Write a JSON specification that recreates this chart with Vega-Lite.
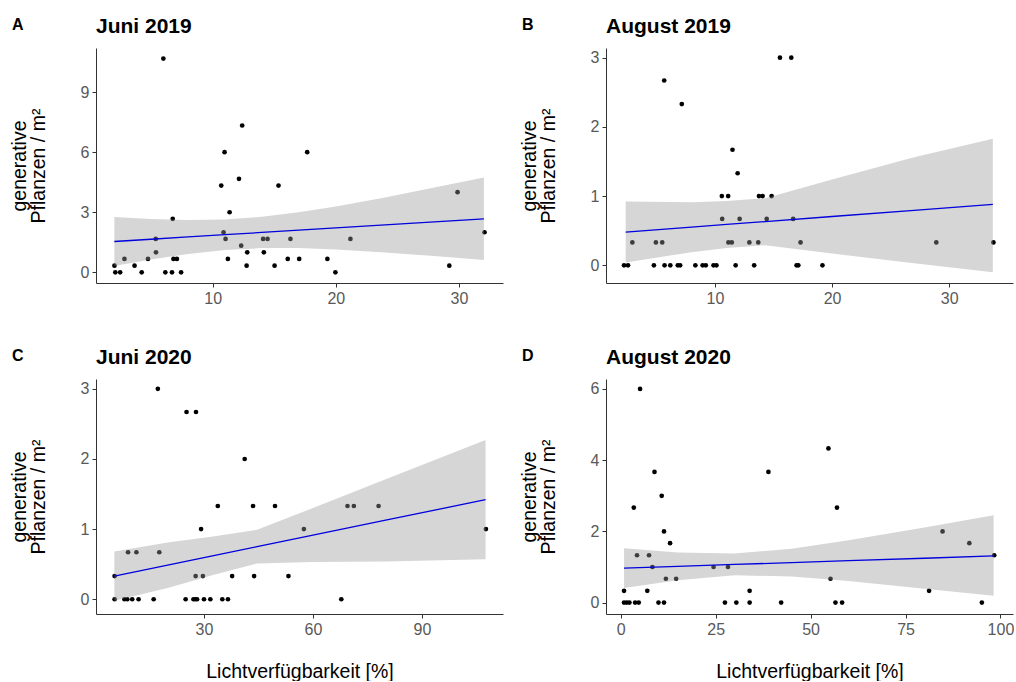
{
  "$schema": "https://vega.github.io/schema/vega-lite/v6.json",
  "padding": {"left": 9, "top": 16, "right": 0, "bottom": 0},
  "autosize": {"type": "pad"},
  "background": "white",
  "config": {
    "font": "Liberation Sans",
    "view": {"stroke": null},
    "axis": {"grid": false, "domainColor": "#333333", "domainWidth": 1, "tickColor": "#333333", "tickSize": 4, "tickWidth": 1,
      "labelColor": "#595959", "labelFontSize": 16, "labelFont": "Liberation Sans", "labelPadding": 3, "labelFlush": false, "labelOverlap": false, "format": "d",
      "titleFont": "Liberation Sans", "titleFontSize": 19.5, "titleFontWeight": "normal", "titleColor": "#000000"},
    "axisY": {"titlePadding": 32, "titleLineHeight": 18.5},
    "axisX": {"titlePadding": 25},
    "title": {"font": "Liberation Sans", "fontWeight": "bold", "color": "#000000"}
  },
  "datasets": {
    "pts": [
      {"p":"A","x":2.03,"y":0.33},{"p":"A","x":2.1,"y":0},{"p":"A","x":2.49,"y":0},{"p":"A","x":2.84,"y":0.67},{"p":"A","x":3.66,"y":0.33},{"p":"A","x":4.24,"y":0},{"p":"A","x":4.75,"y":0.67},{"p":"A","x":5.38,"y":1.67},{"p":"A","x":5.4,"y":1.0},{"p":"A","x":6.0,"y":10.67},{"p":"A","x":6.16,"y":0},{"p":"A","x":6.7,"y":0},{"p":"A","x":6.76,"y":2.67},{"p":"A","x":6.82,"y":0.67},{"p":"A","x":7.1,"y":0.67},{"p":"A","x":7.44,"y":0},{"p":"A","x":10.7,"y":4.33},{"p":"A","x":10.89,"y":2},{"p":"A","x":10.97,"y":6},{"p":"A","x":11.05,"y":1.67},{"p":"A","x":11.24,"y":0.67},{"p":"A","x":11.38,"y":3},{"p":"A","x":12.14,"y":4.67},{"p":"A","x":12.32,"y":1.33},{"p":"A","x":12.4,"y":7.33},{"p":"A","x":12.76,"y":0.33},{"p":"A","x":12.81,"y":1},{"p":"A","x":14.1,"y":1.67},{"p":"A","x":14.16,"y":1},{"p":"A","x":14.46,"y":1.67},{"p":"A","x":15.03,"y":0.33},{"p":"A","x":15.35,"y":4.33},{"p":"A","x":16.1,"y":0.67},{"p":"A","x":16.32,"y":1.67},{"p":"A","x":17.03,"y":0.67},{"p":"A","x":17.68,"y":6},{"p":"A","x":19.32,"y":0.67},{"p":"A","x":19.97,"y":0},{"p":"A","x":21.19,"y":1.67},{"p":"A","x":29.22,"y":0.33},{"p":"A","x":29.89,"y":4},{"p":"A","x":32.08,"y":2},
      {"p":"B","x":2.24,"y":0},{"p":"B","x":2.58,"y":0},{"p":"B","x":2.95,"y":0.33},{"p":"B","x":4.79,"y":0},{"p":"B","x":4.96,"y":0.33},{"p":"B","x":5.5,"y":0.33},{"p":"B","x":5.67,"y":2.67},{"p":"B","x":5.7,"y":0},{"p":"B","x":6.19,"y":0},{"p":"B","x":6.83,"y":0},{"p":"B","x":7.03,"y":0},{"p":"B","x":7.17,"y":2.33},{"p":"B","x":8.33,"y":0},{"p":"B","x":8.95,"y":0},{"p":"B","x":9.22,"y":0},{"p":"B","x":9.88,"y":0},{"p":"B","x":10.13,"y":0},{"p":"B","x":10.59,"y":1},{"p":"B","x":10.62,"y":0.67},{"p":"B","x":11.13,"y":1},{"p":"B","x":11.15,"y":0.33},{"p":"B","x":11.44,"y":0.33},{"p":"B","x":11.5,"y":1.67},{"p":"B","x":11.77,"y":0},{"p":"B","x":11.94,"y":1.33},{"p":"B","x":12.11,"y":0.67},{"p":"B","x":12.94,"y":0.33},{"p":"B","x":13.35,"y":0},{"p":"B","x":13.7,"y":0.33},{"p":"B","x":13.76,"y":1},{"p":"B","x":14.07,"y":1},{"p":"B","x":14.42,"y":0.67},{"p":"B","x":14.84,"y":1},{"p":"B","x":15.55,"y":3},{"p":"B","x":16.52,"y":3},{"p":"B","x":16.68,"y":0.67},{"p":"B","x":16.97,"y":0},{"p":"B","x":17.12,"y":0},{"p":"B","x":17.31,"y":0.33},{"p":"B","x":19.18,"y":0},{"p":"B","x":28.9,"y":0.33},{"p":"B","x":33.78,"y":0.33},
      {"p":"C","x":5.4,"y":0},{"p":"C","x":5.4,"y":0.33},{"p":"C","x":8.1,"y":0},{"p":"C","x":8.9,"y":0},{"p":"C","x":9.1,"y":0.67},{"p":"C","x":10.25,"y":0},{"p":"C","x":11.4,"y":0.67},{"p":"C","x":12.0,"y":0},{"p":"C","x":16.15,"y":0},{"p":"C","x":17.3,"y":3},{"p":"C","x":17.7,"y":0.67},{"p":"C","x":24.95,"y":0},{"p":"C","x":25.2,"y":2.67},{"p":"C","x":27.1,"y":0},{"p":"C","x":27.6,"y":0},{"p":"C","x":27.8,"y":2.67},{"p":"C","x":27.7,"y":0.33},{"p":"C","x":28.1,"y":0},{"p":"C","x":29.2,"y":1},{"p":"C","x":29.7,"y":0.33},{"p":"C","x":30.0,"y":0},{"p":"C","x":31.75,"y":0},{"p":"C","x":33.8,"y":1.33},{"p":"C","x":35.05,"y":0},{"p":"C","x":36.6,"y":0},{"p":"C","x":37.75,"y":0.33},{"p":"C","x":41.2,"y":2},{"p":"C","x":43.5,"y":1.33},{"p":"C","x":43.8,"y":0.33},{"p":"C","x":49.55,"y":1.33},{"p":"C","x":53.25,"y":0.33},{"p":"C","x":57.5,"y":1},{"p":"C","x":67.8,"y":0},{"p":"C","x":69.5,"y":1.33},{"p":"C","x":71.25,"y":1.33},{"p":"C","x":78.05,"y":1.33},{"p":"C","x":107.6,"y":1},
      {"p":"D","x":0.88,"y":0.33},{"p":"D","x":0.88,"y":0},{"p":"D","x":1.6,"y":0},{"p":"D","x":2.3,"y":0},{"p":"D","x":3.45,"y":2.67},{"p":"D","x":3.8,"y":0},{"p":"D","x":4.3,"y":1.33},{"p":"D","x":4.75,"y":0},{"p":"D","x":5.1,"y":6},{"p":"D","x":7.0,"y":0.33},{"p":"D","x":7.45,"y":1.33},{"p":"D","x":8.35,"y":1},{"p":"D","x":8.9,"y":3.67},{"p":"D","x":9.95,"y":0},{"p":"D","x":10.8,"y":3},{"p":"D","x":11.4,"y":0},{"p":"D","x":11.4,"y":2},{"p":"D","x":11.9,"y":0.67},{"p":"D","x":13.0,"y":1.67},{"p":"D","x":14.6,"y":0.67},{"p":"D","x":24.45,"y":1},{"p":"D","x":27.45,"y":0},{"p":"D","x":28.25,"y":1},{"p":"D","x":30.45,"y":0},{"p":"D","x":33.95,"y":0.33},{"p":"D","x":33.95,"y":0},{"p":"D","x":38.9,"y":3.67},{"p":"D","x":42.25,"y":0},{"p":"D","x":54.7,"y":4.33},{"p":"D","x":55.25,"y":0.67},{"p":"D","x":56.55,"y":0},{"p":"D","x":56.95,"y":2.67},{"p":"D","x":58.3,"y":0},{"p":"D","x":81.2,"y":0.33},{"p":"D","x":84.75,"y":2},{"p":"D","x":91.8,"y":1.67},{"p":"D","x":95.1,"y":0},{"p":"D","x":98.35,"y":1.33}
    ],
    "fit": [
      {"p":"A","x":2.02,"fit":1.54,"lo":0.32,"hi":2.76},{"p":"A","x":5,"fit":1.652,"lo":0.64,"hi":2.66},{"p":"A","x":8,"fit":1.765,"lo":0.92,"hi":2.61},{"p":"A","x":11,"fit":1.878,"lo":1.12,"hi":2.64},{"p":"A","x":14,"fit":1.991,"lo":1.21,"hi":2.77},{"p":"A","x":17,"fit":2.104,"lo":1.21,"hi":3.0},{"p":"A","x":20,"fit":2.217,"lo":1.14,"hi":3.29},{"p":"A","x":24,"fit":2.368,"lo":0.99,"hi":3.74},{"p":"A","x":28,"fit":2.518,"lo":0.81,"hi":4.23},{"p":"A","x":32.03,"fit":2.67,"lo":0.61,"hi":4.73},
      {"p":"B","x":2.38,"fit":0.48,"lo":0.04,"hi":0.92},{"p":"B","x":8,"fit":0.552,"lo":0.19,"hi":0.91},{"p":"B","x":11,"fit":0.59,"lo":0.25,"hi":0.93},{"p":"B","x":14.3,"fit":0.632,"lo":0.29,"hi":0.97},{"p":"B","x":20,"fit":0.705,"lo":0.17,"hi":1.24},{"p":"B","x":27,"fit":0.794,"lo":0.03,"hi":1.56},{"p":"B","x":33.73,"fit":0.88,"lo":-0.1,"hi":1.83},
      {"p":"C","x":5.33,"fit":0.33,"lo":-0.02,"hi":0.68},{"p":"C","x":20,"fit":0.486,"lo":0.16,"hi":0.81},{"p":"C","x":32,"fit":0.614,"lo":0.34,"hi":0.89},{"p":"C","x":44.6,"fit":0.749,"lo":0.51,"hi":0.99},{"p":"C","x":60,"fit":0.913,"lo":0.53,"hi":1.3},{"p":"C","x":80,"fit":1.127,"lo":0.54,"hi":1.71},{"p":"C","x":107.5,"fit":1.42,"lo":0.57,"hi":2.27},
      {"p":"D","x":0.88,"fit":0.97,"lo":0.41,"hi":1.53},{"p":"D","x":15,"fit":1.019,"lo":0.63,"hi":1.41},{"p":"D","x":30,"fit":1.072,"lo":0.77,"hi":1.38},{"p":"D","x":45,"fit":1.124,"lo":0.73,"hi":1.51},{"p":"D","x":60,"fit":1.177,"lo":0.61,"hi":1.75},{"p":"D","x":80,"fit":1.246,"lo":0.39,"hi":2.11},{"p":"D","x":98.2,"fit":1.31,"lo":0.19,"hi":2.45}
    ]
  },
  "columns": 2,
  "spacing": {"row": 41, "column": 16},
  "concat": [
      {"title": {"text": "A", "anchor": "start", "frame": "group", "fontSize": 16, "baseline": "alphabetic", "offset": 0, "dx": -84, "dy": 30},
       "vconcat": [{
        "width": 407, "height": 235,
        "title": {"text": "Juni 2019", "anchor": "start", "frame": "group", "fontSize": 21, "baseline": "alphabetic", "offset": -6},
        "layer": [
          {"data": {"name": "pts"}, "transform": [{"filter": "datum.p == 'A'"}],
           "mark": {"type": "circle", "size": 22, "color": "#000000", "opacity": 1},
           "encoding": {
             "x": {"field": "x", "type": "quantitative", "scale": {"domain": [0.53, 33.58], "nice": false, "zero": false}, "axis": {"values": [10, 20, 30], "title": null}},
             "y": {"field": "y", "type": "quantitative", "scale": {"domain": [-0.533, 11.2], "nice": false, "zero": false}, "axis": {"values": [0, 3, 6, 9], "title": ["generative", "Pflanzen / m²"]}}}},
          {"data": {"name": "fit"}, "transform": [{"filter": "datum.p == 'A'"}],
           "mark": {"type": "area", "color": "#999999", "opacity": 0.4},
           "encoding": {"x": {"field": "x", "type": "quantitative"}, "y": {"field": "lo", "type": "quantitative"}, "y2": {"field": "hi"}}},
          {"data": {"name": "fit"}, "transform": [{"filter": "datum.p == 'A'"}],
           "mark": {"type": "line", "color": "#0000dd", "strokeWidth": 1.3},
           "encoding": {"x": {"field": "x", "type": "quantitative"}, "y": {"field": "fit", "type": "quantitative"}}}
        ]}]},
      {"title": {"text": "B", "anchor": "start", "frame": "group", "fontSize": 16, "baseline": "alphabetic", "offset": 0, "dx": -84, "dy": 30},
       "vconcat": [{
        "width": 407, "height": 235,
        "title": {"text": "August 2019", "anchor": "start", "frame": "group", "fontSize": 21, "baseline": "alphabetic", "offset": -6},
        "layer": [
          {"data": {"name": "pts"}, "transform": [{"filter": "datum.p == 'B'"}],
           "mark": {"type": "circle", "size": 22, "color": "#000000", "opacity": 1},
           "encoding": {
             "x": {"field": "x", "type": "quantitative", "scale": {"domain": [0.7, 35.45], "nice": false, "zero": false}, "axis": {"values": [10, 20, 30], "title": null}},
             "y": {"field": "y", "type": "quantitative", "scale": {"domain": [-0.256, 3.14], "nice": false, "zero": false}, "axis": {"values": [0, 1, 2, 3], "title": ["generative", "Pflanzen / m²"]}}}},
          {"data": {"name": "fit"}, "transform": [{"filter": "datum.p == 'B'"}],
           "mark": {"type": "area", "color": "#999999", "opacity": 0.4},
           "encoding": {"x": {"field": "x", "type": "quantitative"}, "y": {"field": "lo", "type": "quantitative"}, "y2": {"field": "hi"}}},
          {"data": {"name": "fit"}, "transform": [{"filter": "datum.p == 'B'"}],
           "mark": {"type": "line", "color": "#0000dd", "strokeWidth": 1.3},
           "encoding": {"x": {"field": "x", "type": "quantitative"}, "y": {"field": "fit", "type": "quantitative"}}}
        ]}]},
      {"title": {"text": "C", "anchor": "start", "frame": "group", "fontSize": 16, "baseline": "alphabetic", "offset": 0, "dx": -84, "dy": 30},
       "vconcat": [{
        "width": 407, "height": 235,
        "title": {"text": "Juni 2020", "anchor": "start", "frame": "group", "fontSize": 21, "baseline": "alphabetic", "offset": -6},
        "layer": [
          {"data": {"name": "pts"}, "transform": [{"filter": "datum.p == 'C'"}],
           "mark": {"type": "circle", "size": 22, "color": "#000000", "opacity": 1},
           "encoding": {
             "x": {"field": "x", "type": "quantitative", "scale": {"domain": [0.28, 112.3], "nice": false, "zero": false}, "axis": {"values": [0, 30, 60, 90], "title": "Lichtverfügbarkeit [%]"}},
             "y": {"field": "y", "type": "quantitative", "scale": {"domain": [-0.21, 3.14], "nice": false, "zero": false}, "axis": {"values": [0, 1, 2, 3], "title": ["generative", "Pflanzen / m²"]}}}},
          {"data": {"name": "fit"}, "transform": [{"filter": "datum.p == 'C'"}],
           "mark": {"type": "area", "color": "#999999", "opacity": 0.4},
           "encoding": {"x": {"field": "x", "type": "quantitative"}, "y": {"field": "lo", "type": "quantitative"}, "y2": {"field": "hi"}}},
          {"data": {"name": "fit"}, "transform": [{"filter": "datum.p == 'C'"}],
           "mark": {"type": "line", "color": "#0000dd", "strokeWidth": 1.3},
           "encoding": {"x": {"field": "x", "type": "quantitative"}, "y": {"field": "fit", "type": "quantitative"}}}
        ]}]},
      {"title": {"text": "D", "anchor": "start", "frame": "group", "fontSize": 16, "baseline": "alphabetic", "offset": 0, "dx": -84, "dy": 30},
       "vconcat": [{
        "width": 407, "height": 235,
        "title": {"text": "August 2020", "anchor": "start", "frame": "group", "fontSize": 21, "baseline": "alphabetic", "offset": -6},
        "layer": [
          {"data": {"name": "pts"}, "transform": [{"filter": "datum.p == 'D'"}],
           "mark": {"type": "circle", "size": 22, "color": "#000000", "opacity": 1},
           "encoding": {
             "x": {"field": "x", "type": "quantitative", "scale": {"domain": [-3.87, 103.3], "nice": false, "zero": false}, "axis": {"values": [0, 25, 50, 75, 100], "title": "Lichtverfügbarkeit [%]"}},
             "y": {"field": "y", "type": "quantitative", "scale": {"domain": [-0.32, 6.28], "nice": false, "zero": false}, "axis": {"values": [0, 2, 4, 6], "title": ["generative", "Pflanzen / m²"]}}}},
          {"data": {"name": "fit"}, "transform": [{"filter": "datum.p == 'D'"}],
           "mark": {"type": "area", "color": "#999999", "opacity": 0.4},
           "encoding": {"x": {"field": "x", "type": "quantitative"}, "y": {"field": "lo", "type": "quantitative"}, "y2": {"field": "hi"}}},
          {"data": {"name": "fit"}, "transform": [{"filter": "datum.p == 'D'"}],
           "mark": {"type": "line", "color": "#0000dd", "strokeWidth": 1.3},
           "encoding": {"x": {"field": "x", "type": "quantitative"}, "y": {"field": "fit", "type": "quantitative"}}}
        ]}]}
  ]
}
